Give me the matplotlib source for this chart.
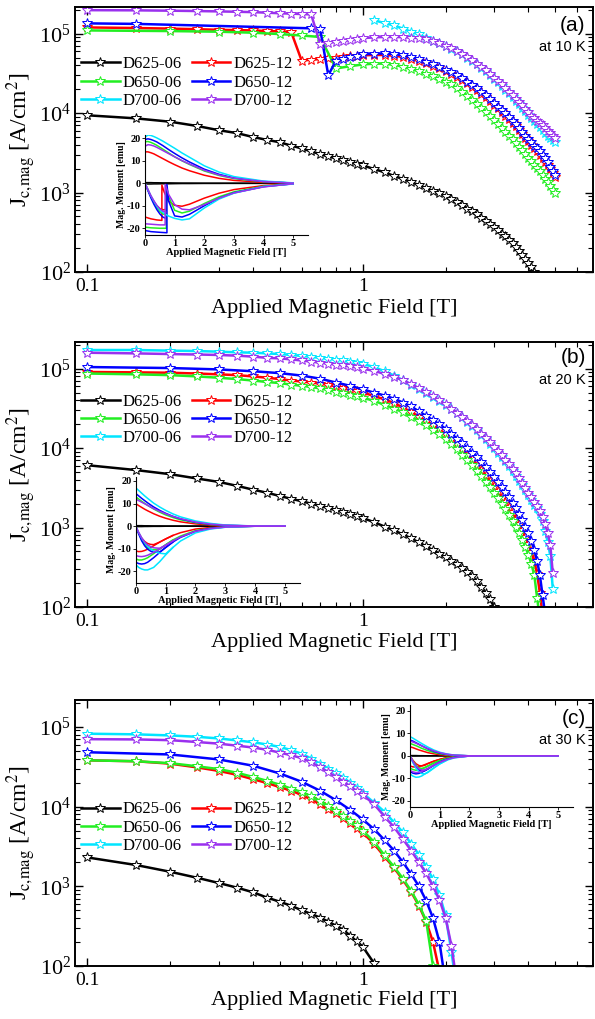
import numpy as np
import matplotlib
matplotlib.use('Agg')
import matplotlib.pyplot as plt
from matplotlib.ticker import LogLocator, NullFormatter, FixedLocator, FixedFormatter

plt.rcParams['font.family'] = ['Liberation Serif', 'DejaVu Serif']
plt.rcParams['mathtext.fontset'] = 'stix'
plt.rcParams['axes.unicode_minus'] = False

# ---------------- field grids (T) ----------------
X_LOW_FINE = [0.10, 0.15, 0.20, 0.25, 0.30, 0.35, 0.40, 0.45, 0.50, 0.55,
              0.60, 0.65, 0.70, 0.75, 0.80, 0.85, 0.90, 0.95, 1.00]
X_LOW_COARSE = [0.1, 0.2, 0.3, 0.4, 0.5, 0.6, 0.7, 0.8, 0.9, 1.0]
X_LOW_BLUE_A = [0.10, 0.15, 0.65, 0.70, 0.75, 0.80, 0.85, 0.90, 0.95, 1.00]
X_HIGH = [1.1, 1.2, 1.3, 1.4, 1.5, 1.6, 1.7, 1.8, 1.9, 2.0,
          2.1, 2.2, 2.3, 2.4, 2.5, 2.6, 2.7, 2.8, 2.9, 3.0,
          3.1, 3.2, 3.3, 3.4, 3.5, 3.6, 3.7, 3.8, 3.9, 4.0,
          4.1, 4.2, 4.3, 4.4, 4.5, 4.6, 4.7, 4.8, 4.9, 5.0]
X_FINE = X_LOW_FINE + X_HIGH
X_COARSE = X_LOW_COARSE + X_HIGH
X_BLUE_A = X_LOW_BLUE_A + X_HIGH

LABELS = ['D625-06', 'D625-12', 'D650-06', 'D650-12', 'D700-06', 'D700-12']
COLORS = ['#000000', '#ff0000', '#22ee22', '#0000ff', '#00e5ff', '#9a30ee']

# ---------------- Jc (kA/cm^2), 10 K ----------------
a_black = [9.4, 8.6, 7.8, 6.9, 6.1, 5.6, 5.0, 4.6, 4.3, 3.9, 3.6, 3.3, 3.05, 2.85, 2.7, 2.55, 2.42, 2.3, 2.2,
           1.98, 1.8, 1.62, 1.48, 1.36, 1.24, 1.14, 1.05, 0.98, 0.9,
           0.83, 0.76, 0.7, 0.63, 0.58, 0.53, 0.48, 0.44, 0.4, 0.37,
           0.335, 0.305, 0.28, 0.255, 0.23, 0.207, 0.185, 0.165, 0.147, 0.13,
           0.115, 0.1, 0.088]
a_red = [120, 118, 116, 114, 112, 111, 110, 108, 107, 105, 46, 47, 48, 49, 50, 51, 52, 53, 53.5,
         54, 54, 53, 51, 48.5, 45.5, 42.5, 39.5, 36.5, 33.5,
         31, 28.5, 26, 23.7, 21.5, 19.5, 17.6, 15.8, 14.2, 12.8,
         11.5, 10.3, 9.3, 8.4, 7.5, 6.8, 6.1, 5.5, 4.9, 4.4,
         4.0, 3.6, 3.3, 3.0, 2.7, 2.45, 2.2, 2.0, 1.78, 1.58]
a_green = [110, 108, 106, 103, 99, 95, 91, 36.5, 39, 41,
           42, 42, 40.5, 38.5, 36, 33.5, 31, 29, 27, 25,
           23, 20.5, 18.5, 16.5, 14.8, 13.2, 11.7, 10.4, 9.2, 8.2,
           7.3, 6.5, 5.85, 5.2, 4.7, 4.2, 3.75, 3.4, 3.05, 2.75,
           2.5, 2.25, 2.05, 1.85, 1.65, 1.5, 1.35, 1.2, 1.08, 0.98]
a_blue = [135, 133, 117, 116, 30, 46, 48.5, 51, 53, 55,
          56, 56.5, 55.5, 53.5, 51, 48, 44.5, 41, 38, 35,
          32.5, 30, 27.5, 25, 22.7, 20.5, 18.5, 16.7, 15, 13.5,
          12.1, 10.9, 9.9, 8.9, 8.0, 7.2, 6.5, 5.8, 5.2, 4.7,
          4.3, 3.9, 3.6, 3.3, 3.0, 2.7, 2.4, 2.1, 1.85, 1.65]
a_cyan = [148, 136, 127, 116, 106, 98, 89, 82, 76, 70,
          65, 60, 55, 50, 45, 41, 37, 33.5, 30, 27,
          24.5, 22, 19.8, 17.8, 16, 14.4, 13, 11.7, 10.6, 9.6,
          8.7, 7.9, 7.2, 6.6, 6.1, 5.6, 5.2, 4.85, 4.6, 4.35]
a_purple = [198, 197, 195, 193, 191, 189, 187, 184, 181, 179, 177, 175, 75, 77, 79, 81, 83.5, 86, 88,
            90, 91, 91, 90.5, 89.5, 88, 86, 82, 77, 71,
            66, 61, 56, 51, 46.5, 42, 38, 34.5, 31, 28,
            25.5, 23, 20.7, 18.7, 16.8, 15.2, 13.8, 12.5, 11.3, 10.2,
            9.3, 8.6, 8.0, 7.5, 7.0, 6.5, 6.0, 5.6, 5.2, 4.8]

# ---------------- Jc (kA/cm^2), 20 K ----------------
b_black = [6.1, 5.3, 4.7, 4.15, 3.76, 3.35, 3.0, 2.74, 2.5, 2.3, 2.15, 2.0, 1.88, 1.76, 1.66, 1.57, 1.48, 1.4, 1.32,
           1.17, 1.03, 0.92, 0.82, 0.73, 0.65, 0.58, 0.52, 0.47, 0.42,
           0.38, 0.345, 0.31, 0.275, 0.245, 0.21, 0.18, 0.15, 0.125, 0.1, 0.08]
b_red = [91, 90, 89, 87, 85, 83, 80, 77, 74, 71, 69, 67, 65, 62.5, 60, 57.5, 55, 52.5, 50,
         45.5, 41, 37, 32.5, 28.5, 25, 22, 19.5, 17.2, 15,
         13, 11.2, 9.7, 8.3, 7.2, 6.2, 5.3, 4.55, 3.9, 3.35,
         2.85, 2.45, 2.1, 1.8, 1.55, 1.3, 1.1, 0.92, 0.76, 0.62,
         0.49, 0.37, 0.26, 0.15, 0.08]
b_green = [87, 85, 83, 80, 77, 74, 71, 68, 66, 63, 61, 59, 56.5, 54, 51.5, 49.5, 47, 45, 43,
           39.5, 35, 31.5, 28.5, 25, 22, 19.3, 17, 14.9, 13,
           11.2, 9.7, 8.3, 7.1, 6.1, 5.2, 4.45, 3.8, 3.2, 2.75,
           2.35, 2.0, 1.7, 1.45, 1.22, 1.03, 0.86, 0.7, 0.57, 0.45,
           0.35, 0.25, 0.13, 0.07]
b_blue = [105, 102, 98, 93, 88, 82, 75, 67, 61, 55,
          50, 46, 42, 37.5, 33.5, 29, 25.5, 22.5, 20, 17.5,
          15.2, 13.2, 11.5, 10, 8.8, 7.7, 6.7, 5.8, 5.0, 4.35,
          3.75, 3.2, 2.8, 2.4, 2.05, 1.75, 1.48, 1.24, 1.03, 0.85,
          0.68, 0.52, 0.38, 0.25, 0.14, 0.08]
b_cyan = [172, 172, 169, 167, 164, 161, 159, 156, 153, 149, 145, 141, 137, 133, 130, 127, 123, 119, 115,
          105, 93, 82, 72, 63, 56, 50, 44, 39.5, 35,
          31, 27.5, 24.5, 21.5, 19, 16.8, 14.8, 13, 11.4, 10,
          8.8, 7.7, 6.8, 6.0, 5.2, 4.5, 3.9, 3.4, 2.95, 2.55,
          2.2, 1.95, 1.75, 1.5, 1.2, 0.9, 0.65, 0.44, 0.17]
b_purple = [159, 156, 153, 151, 149, 146, 142, 137, 135, 131, 127, 123, 119, 116, 113, 110, 107, 104, 100,
            94, 86, 79, 71.5, 64, 57, 50.5, 45, 40, 35.5,
            31.5, 28, 25, 22, 19.5, 17.2, 15.2, 13.4, 11.8, 10.4,
            9.2, 8.1, 7.1, 6.3, 5.5, 4.8, 4.2, 3.65, 3.15, 2.75,
            2.4, 2.1, 1.85, 1.6, 1.35, 1.1, 0.85, 0.6, 0.27]

# ---------------- Jc (kA/cm^2), 30 K ----------------
c_black = [2.3, 1.85, 1.52, 1.28, 1.1, 0.96, 0.84, 0.72, 0.64, 0.57, 0.5, 0.45, 0.405, 0.36, 0.32, 0.285, 0.24, 0.205, 0.175,
           0.108, 0.06]
c_red = [38, 37, 34.5, 31, 28, 25, 22, 19.7, 17.5, 15.8, 14, 12.3, 10.8, 9.4, 8.2, 7.2, 6.3, 5.4, 4.7,
         3.4, 2.35, 1.7, 1.2, 0.85, 0.57, 0.36, 0.2, 0.085]
c_green = [38, 37, 35, 32, 29.5, 26.5, 23.5, 21, 18.8, 16.8, 15.2, 13.5, 11.8, 10.2, 8.7, 7.6, 6.6, 5.8, 5.0,
           3.6, 2.45, 1.75, 1.25, 0.87, 0.59, 0.37, 0.1, 0.04]
c_blue = [48, 45, 39, 32.5, 26, 20.5, 15.8, 12, 9.1, 6.9,
          5.2, 3.8, 2.8, 2.0, 1.42, 1.0, 0.66, 0.4, 0.2, 0.06]
c_cyan = [82, 80.5, 78, 75, 71.5, 67.5, 64, 60, 56, 51, 46, 40, 34.5, 30, 26, 23, 20, 17.3, 14.7,
          11.2, 8.6, 6.3, 4.76, 3.4, 2.5, 1.75, 1.23, 0.78, 0.43, 0.15, 0.05]
c_purple = [70, 69.5, 68, 64.5, 61.5, 58, 55, 51.5, 47.5, 44, 40.5, 36, 31, 27, 23.5, 20.5, 18, 15.7, 14,
            10.7, 7.5, 5.5, 3.9, 2.8, 2.0, 1.45, 1.0, 0.68, 0.4, 0.18, 0.06]

# ---------------- inset M-H loops (emu) ----------------
XI = [0, 0.1, 0.2, 0.3, 0.4, 0.6, 0.8, 1.0, 1.25, 1.5, 2.0, 2.5, 3.0, 4.0, 5.0]
XV = [0, 0.1, 0.2, 0.3, 0.4, 0.5, 0.6, 0.8, 1.0, 1.25]
XV_A = [0, 0.1, 0.2, 0.3, 0.4, 0.5, 0.6, 0.7]

# 10 K
ia_black_up = [0.3, 0.3, 0.3, 0.25, 0.25, 0.2, 0.2, 0.15, 0.1, 0.1, 0.05, 0.05, 0, 0, 0]
ia_red_up = [14.0, 14.0, 13.6, 13.1, 12.4, 11.0, 9.6, 8.3, 6.8, 5.6, 3.6, 2.2, 1.3, 0.4, 0.05]
ia_green_up = [18.5, 18.6, 18.2, 17.6, 16.9, 15.2, 13.5, 11.8, 10.0, 8.4, 5.5, 3.5, 2.1, 0.7, 0.1]
ia_blue_up = [19.5, 19.8, 19.5, 19.0, 18.4, 16.8, 15.0, 13.3, 11.3, 9.5, 6.3, 4.0, 2.4, 0.8, 0.1]
ia_cyan_up = [20.5, 21.5, 21.3, 20.8, 20.2, 18.8, 17.2, 15.6, 13.5, 11.6, 7.8, 5.0, 3.0, 1.0, 0.2]
ia_purple_up = [16.5, 17.2, 17.0, 16.6, 16.0, 14.6, 13.2, 11.8, 10.1, 8.6, 5.8, 3.7, 2.3, 0.8, 0.1]

ia_red_dn_h = [0, 0.2, 0.4, 0.57, 0.57, 0.65, 0.8, 1.0, 1.25, 1.5, 2.0, 2.5, 3.0, 4.0, 5.0]
ia_red_dn_m = [-15, -15.8, -16.3, -16.5, -0.8, -4, -8, -9.8, -10.2, -9.3, -6.6, -4.4, -2.8, -1.0, -0.2]
ia_green_dn_h = [0, 0.2, 0.5, 0.72, 0.72, 0.8, 1.0, 1.25, 1.5, 2.0, 2.5, 3.0, 4.0, 5.0]
ia_green_dn_m = [-19.5, -19.8, -20, -20, -0.8, -6, -12, -13.2, -12.4, -9.0, -6.0, -3.8, -1.3, -0.2]
ia_blue_dn_h = [0, 0.2, 0.5, 0.74, 0.74, 0.8, 1.0, 1.25, 1.5, 2.0, 2.5, 3.0, 4.0, 5.0]
ia_blue_dn_m = [-21, -21.5, -21.8, -22, -0.5, -8, -14.5, -15, -13.8, -10.0, -6.6, -4.2, -1.5, -0.2]
ia_purple_dn_h = [0, 0.2, 0.5, 0.68, 0.68, 0.8, 1.0, 1.25, 1.5, 2.0, 2.5, 3.0, 4.0, 5.0]
ia_purple_dn_m = [-18, -18.2, -18.5, -18.5, -0.5, -5, -9.5, -11.5, -11.8, -9.5, -6.6, -4.3, -1.6, -0.2]
ia_cyan_dn_h = [0, 0.1, 0.2, 0.3, 0.4, 0.5, 0.6, 0.7, 0.8, 1.0, 1.25, 1.5, 2.0, 2.5, 3.0, 4.0, 5.0]
ia_cyan_dn_m = [0, -2.8, -5.6, -8.0, -10.2, -11.8, -13.0, -13.8, -14.6, -15.6, -16.3, -15.8, -11.0, -7.0, -4.4, -1.4, -0.3]

ia_red_vg = [0, -3, -5.8, -8.2, -10, -11.2, -11.8, -11.6]
ia_green_vg = [0, -3, -6, -8.6, -10.8, -12.5, -13.6, -14.0]
ia_blue_vg = [0, -3.3, -6.5, -9.3, -11.7, -13.6, -15.0, -15.6]
ia_purple_vg = [0, -2.8, -5.5, -7.8, -9.8, -11.3, -12.3, -12.8]

# 20 K
ib_black_up = [0.2, 0.2, 0.2, 0.15, 0.15, 0.1, 0.1, 0.05, 0.05, 0, 0, 0, 0, 0, 0]
ib_red_up = [10, 9.1, 8.3, 7.5, 6.8, 5.5, 4.4, 3.5, 2.6, 1.9, 1.0, 0.5, 0.2, 0.02, 0]
ib_green_up = [13, 12.0, 11.0, 10.1, 9.2, 7.6, 6.2, 5.0, 3.8, 2.8, 1.5, 0.7, 0.3, 0.03, 0]
ib_blue_up = [14.5, 13.4, 12.3, 11.3, 10.3, 8.5, 7.0, 5.7, 4.3, 3.2, 1.7, 0.8, 0.35, 0.03, 0]
ib_cyan_up = [17, 15.8, 14.6, 13.4, 12.3, 10.2, 8.5, 7.0, 5.4, 4.1, 2.3, 1.2, 0.5, 0.05, 0]
ib_purple_up = [12, 11.3, 10.6, 9.9, 9.2, 7.8, 6.6, 5.5, 4.3, 3.3, 1.8, 0.9, 0.4, 0.05, 0]

ib_red_dn = [-11, -11.3, -11.2, -10.8, -10.2, -8.7, -7.1, -5.7, -4.1, -2.9, -1.3, -0.6, -0.25, -0.02, 0]
ib_green_dn = [-14.5, -15, -15, -14.6, -14, -12.2, -10.2, -8.3, -6.1, -4.4, -2.0, -0.9, -0.35, -0.03, 0]
ib_blue_dn = [-16, -16.6, -16.8, -16.6, -16.0, -14.0, -11.7, -9.5, -7.0, -5.0, -2.3, -1.0, -0.4, -0.03, 0]
ib_cyan_dn = [-17, -18.3, -19.0, -19.4, -19.4, -18.3, -15.8, -12.8, -9.4, -6.6, -3.0, -1.3, -0.5, -0.05, 0]
ib_purple_dn = [-13, -13.4, -13.5, -13.3, -12.9, -11.6, -10.1, -8.5, -6.5, -4.8, -2.3, -1.1, -0.45, -0.05, 0]

ib_red_vg = [0, -3, -5.3, -6.8, -7.7, -8.1, -8.2, -7.1, -5.7, -4.1]
ib_green_vg = [0, -3.2, -6, -8, -9.4, -10.2, -10.5, -10.2, -8.3, -6.1]
ib_blue_vg = [0, -3.5, -6.5, -8.7, -10.2, -11.1, -11.5, -11.5, -9.5, -7.0]
ib_cyan_vg = [0, -2.8, -5.3, -7.3, -8.9, -10.1, -11.0, -12.0, -12.3, -9.4]
ib_purple_vg = [0, -2.8, -5.2, -7.0, -8.3, -9.1, -9.6, -9.8, -8.5, -6.5]

# 30 K
ic_black_up = [0.1, 0.1, 0.1, 0.05, 0.05, 0, 0, 0, 0, 0, 0, 0, 0, 0, 0]
ic_red_up = [4.0, 3.6, 3.1, 2.6, 2.2, 1.4, 0.9, 0.5, 0.2, 0.1, 0, 0, 0, 0, 0]
ic_green_up = [5.5, 5.0, 4.5, 3.9, 3.3, 2.3, 1.5, 0.9, 0.4, 0.15, 0, 0, 0, 0, 0]
ic_blue_up = [7.0, 6.5, 5.8, 5.1, 4.4, 3.1, 2.0, 1.2, 0.6, 0.2, 0, 0, 0, 0, 0]
ic_cyan_up = [8.5, 7.8, 7.0, 6.2, 5.4, 3.9, 2.6, 1.6, 0.8, 0.3, 0, 0, 0, 0, 0]
ic_purple_up = [6.5, 6.1, 5.6, 5.0, 4.4, 3.2, 2.2, 1.4, 0.7, 0.3, 0, 0, 0, 0, 0]

ic_red_dn = [-4.5, -4.9, -5.0, -4.8, -4.4, -3.4, -2.4, -1.6, -0.8, -0.4, 0, 0, 0, 0, 0]
ic_green_dn = [-5.5, -6.1, -6.4, -6.2, -5.8, -4.5, -3.2, -2.1, -1.1, -0.5, -0.05, 0, 0, 0, 0]
ic_blue_dn = [-7, -7.7, -8.0, -7.8, -7.3, -5.8, -4.2, -2.8, -1.5, -0.7, -0.1, 0, 0, 0, 0]
ic_cyan_dn = [-8, -9, -9.5, -9.4, -8.9, -7.2, -5.3, -3.6, -1.9, -0.9, -0.1, 0, 0, 0, 0]
ic_purple_dn = [-6.5, -7.1, -7.4, -7.3, -6.9, -5.6, -4.2, -2.9, -1.6, -0.8, -0.1, 0, 0, 0, 0]

ic_red_vg = [0, -2, -3.5, -4.3, -4.5, -4.2, -3.5, -2.4, -1.6, -0.8]
ic_green_vg = [0, -2.3, -4.2, -5.3, -5.6, -5.3, -4.6, -3.2, -2.1, -1.1]
ic_blue_vg = [0, -2.8, -5, -6.3, -6.8, -6.6, -5.9, -4.2, -2.8, -1.5]
ic_cyan_vg = [0, -3, -5.5, -7, -7.9, -8.0, -7.4, -5.5, -3.6, -1.9]
ic_purple_vg = [0, -2.5, -4.5, -5.8, -6.3, -6.2, -5.6, -4.2, -2.9, -1.6]

# ---------------- figure ----------------
fig = plt.figure(figsize=(5.95, 10.19), dpi=100)
W, H = 595.0, 1019.0


def rect(x0, x1, y0, y1):
    return [x0 / W, 1 - y1 / H, (x1 - x0) / W, (y1 - y0) / H]


def style_main(ax):
    ax.set_xscale('log')
    ax.set_yscale('log')
    ax.set_xlim(0.0902, 6.86)
    ax.set_ylim(100, 2.17e5)
    ax.xaxis.set_major_locator(FixedLocator([0.1, 1]))
    ax.xaxis.set_major_formatter(FixedFormatter(['0.1', '1']))
    ax.xaxis.set_minor_locator(LogLocator(base=10, subs=np.arange(2, 10) * 1.0, numticks=20))
    ax.xaxis.set_minor_formatter(NullFormatter())
    ax.yaxis.set_major_locator(LogLocator(base=10, numticks=10))
    ax.yaxis.set_minor_locator(LogLocator(base=10, subs=np.arange(2, 10) * 1.0, numticks=20))
    ax.yaxis.set_minor_formatter(NullFormatter())
    ax.tick_params(which='both', direction='in', top=True, right=True)
    ax.tick_params(which='major', length=6, width=1.0, pad=4)
    ax.tick_params(axis='x', which='major', labelsize=14)
    ax.tick_params(axis='y', which='major', labelsize=16, pad=3)
    ax.tick_params(which='minor', length=3.5, width=0.8)
    for s in ax.spines.values():
        s.set_linewidth(1.4)
    ax.set_xlabel('Applied Magnetic Field [T]', fontsize=16)
    ax.set_ylabel(r'J$_{\text{c,mag}}$ [A/cm$^2$]', fontsize=17)
    ax.yaxis.set_label_coords(-0.072, 0.5)


def draw_series(ax, xs, ys, color, label):
    x = xs[:len(ys)]
    y = np.array(ys) * 1e3
    h, = ax.plot(x, y, '-', color=color, lw=1.8, marker='*', ms=7.5,
                 mfc='white', mec=color, mew=0.7, label=label)
    return h


def add_legend(ax, handles, yc):
    order = [0, 2, 4, 1, 3, 5]
    ax.legend([handles[i] for i in order], [LABELS[i] for i in order],
              ncol=2, loc='center left', bbox_to_anchor=(0.012, yc),
              frameon=False, fontsize=12, numpoints=1, handlelength=2.3,
              handletextpad=0.2, columnspacing=0.6, labelspacing=0.14,
              borderpad=0, borderaxespad=0)


def panel_text(ax, tag, temp, ytag, ytemp):
    ax.text(0.986, ytag, tag, transform=ax.transAxes, ha='right', va='center',
            fontsize=15, family='Liberation Sans')
    ax.text(0.986, ytemp, temp, transform=ax.transAxes, ha='right', va='center',
            fontsize=10.5, family='Liberation Sans')


def style_inset(iax, ylim):
    iax.patch.set_alpha(0)
    iax.set_xlim(0, 5.5)
    iax.set_ylim(*ylim)
    iax.spines['top'].set_visible(False)
    iax.spines['right'].set_visible(False)
    for s in ['left', 'bottom']:
        iax.spines[s].set_linewidth(0.8)
    iax.set_xticks([0, 1, 2, 3, 4, 5])
    iax.set_yticks([-20, -10, 0, 10, 20])
    iax.tick_params(direction='out', length=2, width=0.6, labelsize=7.5, pad=1)
    for lab in iax.get_xticklabels() + iax.get_yticklabels():
        lab.set_fontweight('bold')
    iax.set_xlabel('Applied Magnetic Field [T]', fontsize=7.5, fontweight='bold', labelpad=0)
    iax.set_ylabel('Mag. Moment [emu]', fontsize=7, fontweight='bold', labelpad=1)


LW_I = 1.1

# ---- panel (a) ----
axa = fig.add_axes(rect(75, 593, 7, 272))
style_main(axa)
ha = [draw_series(axa, X_FINE, a_black, COLORS[0], LABELS[0]),
      draw_series(axa, X_FINE, a_red, COLORS[1], LABELS[1]),
      draw_series(axa, X_COARSE, a_green, COLORS[2], LABELS[2]),
      draw_series(axa, X_BLUE_A, a_blue, COLORS[3], LABELS[3]),
      draw_series(axa, X_HIGH, a_cyan, COLORS[4], LABELS[4]),
      draw_series(axa, X_FINE, a_purple, COLORS[5], LABELS[5])]
add_legend(axa, ha, 0.715)
panel_text(axa, '(a)', 'at 10 K', 0.932, 0.849)
axa.xaxis.set_label_coords(0.5, -0.10)

ia = fig.add_axes(rect(145, 308, 135, 235))
style_inset(ia, (-23, 21.5))
ia.plot(XI, ia_black_up, color=COLORS[0], lw=LW_I)
ia.plot(XI, [-v for v in ia_black_up], color=COLORS[0], lw=LW_I)
for up, dh, dm, vg, c in [(ia_red_up, ia_red_dn_h, ia_red_dn_m, ia_red_vg, COLORS[1]),
                          (ia_green_up, ia_green_dn_h, ia_green_dn_m, ia_green_vg, COLORS[2]),
                          (ia_blue_up, ia_blue_dn_h, ia_blue_dn_m, ia_blue_vg, COLORS[3]),
                          (ia_cyan_up, ia_cyan_dn_h, ia_cyan_dn_m, None, COLORS[4]),
                          (ia_purple_up, ia_purple_dn_h, ia_purple_dn_m, ia_purple_vg, COLORS[5])]:
    ia.plot(XI, up, color=c, lw=LW_I)
    ia.plot(dh, dm, color=c, lw=LW_I)
    if vg is not None:
        ia.plot(XV_A, vg, color=c, lw=LW_I)

# ---- panel (b) ----
axb = fig.add_axes(rect(75, 593, 342, 607))
style_main(axb)
hb = [draw_series(axb, X_FINE, b_black, COLORS[0], LABELS[0]),
      draw_series(axb, X_FINE, b_red, COLORS[1], LABELS[1]),
      draw_series(axb, X_FINE, b_green, COLORS[2], LABELS[2]),
      draw_series(axb, X_COARSE, b_blue, COLORS[3], LABELS[3]),
      draw_series(axb, X_FINE, b_cyan, COLORS[4], LABELS[4]),
      draw_series(axb, X_FINE, b_purple, COLORS[5], LABELS[5])]
add_legend(axb, hb, 0.706)
panel_text(axb, '(b)', 'at 20 K', 0.94, 0.858)
axb.xaxis.set_label_coords(0.5, -0.10)

ib = fig.add_axes(rect(135.7, 300, 476.7, 583))
style_inset(ib, (-25.2, 21.9))
ib.plot(XI, ib_black_up, color=COLORS[0], lw=LW_I)
ib.plot(XI, [-v for v in ib_black_up], color=COLORS[0], lw=LW_I)
for up, dn, vg, c in [(ib_red_up, ib_red_dn, ib_red_vg, COLORS[1]),
                      (ib_green_up, ib_green_dn, ib_green_vg, COLORS[2]),
                      (ib_blue_up, ib_blue_dn, ib_blue_vg, COLORS[3]),
                      (ib_cyan_up, ib_cyan_dn, ib_cyan_vg, COLORS[4]),
                      (ib_purple_up, ib_purple_dn, ib_purple_vg, COLORS[5])]:
    ib.plot(XI, up, color=c, lw=LW_I)
    ib.plot(XI, dn, color=c, lw=LW_I)
    ib.plot(XV, vg, color=c, lw=LW_I)

# ---- panel (c) ----
axc = fig.add_axes(rect(75, 593, 700, 966))
style_main(axc)
hc = [draw_series(axc, X_FINE, c_black, COLORS[0], LABELS[0]),
      draw_series(axc, X_FINE, c_red, COLORS[1], LABELS[1]),
      draw_series(axc, X_FINE, c_green, COLORS[2], LABELS[2]),
      draw_series(axc, X_COARSE, c_blue, COLORS[3], LABELS[3]),
      draw_series(axc, X_FINE, c_cyan, COLORS[4], LABELS[4]),
      draw_series(axc, X_FINE, c_purple, COLORS[5], LABELS[5])]
add_legend(axc, hc, 0.52)
panel_text(axc, '(c)', 'at 30 K', 0.931, 0.85)
axc.xaxis.set_label_coords(0.5, -0.095)

ic = fig.add_axes(rect(410, 573, 705, 807.3))
style_inset(ic, (-22.8, 22.5))
ic.plot(XI, ic_black_up, color=COLORS[0], lw=LW_I)
ic.plot(XI, [-v for v in ic_black_up], color=COLORS[0], lw=LW_I)
for up, dn, vg, c in [(ic_red_up, ic_red_dn, ic_red_vg, COLORS[1]),
                      (ic_green_up, ic_green_dn, ic_green_vg, COLORS[2]),
                      (ic_blue_up, ic_blue_dn, ic_blue_vg, COLORS[3]),
                      (ic_cyan_up, ic_cyan_dn, ic_cyan_vg, COLORS[4]),
                      (ic_purple_up, ic_purple_dn, ic_purple_vg, COLORS[5])]:
    ic.plot(XI, up, color=c, lw=LW_I)
    ic.plot(XI, dn, color=c, lw=LW_I)
    ic.plot(XV, vg, color=c, lw=LW_I)

fig.savefig('out.png', dpi=100)
